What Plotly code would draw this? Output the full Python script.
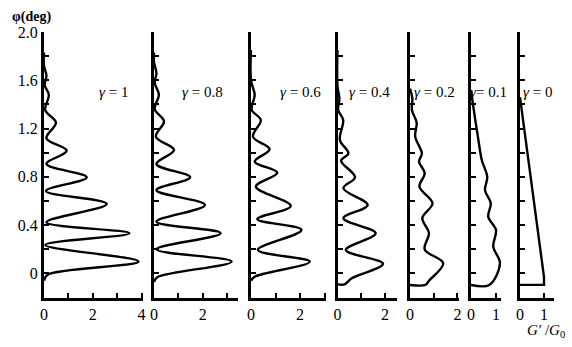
import plotly.graph_objects as go

# ---- data (phi in deg, G'/G0) ----
labels = ["γ = 1", "γ = 0.8", "γ = 0.6", "γ = 0.4", "γ = 0.2", "γ= 0.1", "γ = 0"]

phi1 = [-0.06, -0.01, 0.098, 0.236, 0.333, 0.424, 0.576, 0.683, 0.797, 0.907, 1.017, 1.12, 1.249, 1.354, 1.478, 1.56, 1.64, 1.72, 1.83]
g1   = [0.0,   0.15,  3.87,  0.05,  3.5,   0.1,   2.57,  0.08,  1.75,  0.1,   0.93,  0.1,  0.49,  0.05,  0.2,   0.03, 0.1,  0.0,  0.0]

phi2 = [-0.07, -0.03, 0.098, 0.2, 0.333, 0.429, 0.567, 0.69, 0.797, 0.907, 1.023, 1.133, 1.26, 1.36, 1.48, 1.58, 1.66, 1.75, 1.83]
g2   = [0.0,   0.15,  3.18,  0.1, 2.73,  0.1,   2.09,  0.1,  1.48,  0.1,   0.82,  0.08,  0.41, 0.03, 0.2,  0.03, 0.1,  0.0,  0.0]

phi3 = [-0.06, -0.027, 0.098, 0.195, 0.36, 0.45, 0.559, 0.719, 0.835, 0.926, 1.029, 1.133, 1.271, 1.354, 1.48, 1.6, 1.85]
g3   = [0.0,   0.15,   2.4,   0.28,  2.06, 0.26, 1.62,  0.2,   1.07,  0.15,  0.76,  0.08,  0.4,   0.03,  0.15, 0.0, 0.0]

phi4 = [-0.09, -0.09, -0.04, 0.08, 0.195, 0.333, 0.457, 0.567, 0.706, 0.797, 0.934, 0.995, 1.106, 1.271, 1.354, 1.45, 1.55, 1.85]
g4   = [0.0,   0.3,   0.6,   1.92, 0.35,  1.61,  0.25,  1.27,  0.25,  0.74,  0.15,  0.46,  0.1,   0.24,  0.03,  0.08, 0.0,  0.0]

phi5 = [-0.095, -0.095, -0.06, 0.084, 0.2, 0.333, 0.46, 0.581, 0.719, 0.83, 0.926, 0.995, 1.133, 1.25, 1.354, 1.45, 1.53]
g5   = [0.0,    0.65,   0.8,   1.4,   0.62, 0.8,  0.52, 0.95,  0.4,   0.62, 0.38,  0.5,   0.22,  0.28, 0.08,  0.1,  0.0]

phi6 = [-0.095, -0.095, 0.084, 0.222, 0.36, 0.47, 0.581, 0.69, 0.80, 0.94, 1.1, 1.3, 1.52]
g6   = [0.0,    0.73,   1.16,  0.89,  1.0,  0.69, 0.79,  0.56, 0.65, 0.43, 0.3, 0.15, 0.0]

phi7 = [-0.095, -0.095, -0.03, 1.46]
g7   = [0.0,    1.0,    1.0,   0.0]

phis = [phi1, phi2, phi3, phi4, phi5, phi6, phi7]
gs = [g1, g2, g3, g4, g5, g6, g7]

# x ranges of each panel and tick labelling
xranges = [4.05, 3.45, 3.05, 2.5, 2.05, 1.2, 1.42]
xticks = [[0, 2, 4], [0, 2], [0, 2], [0, 2], [0, 2], [0, 1], [0, 1]]
xtext = [["0", "2", "4"], ["0", "2"], ["0", "2"], ["0", "2"], ["0", "2"], ["0", "1"], ["0", "1"]]
yticks = [0, 0.4, 0.8, 1.2, 1.6, 2.0]
ytext = ["0", "0.4", "0.8", "1.2", "1.6", "2.0"]

# layout geometry (pixels)
W, H = 572, 347
ML, MR, MT, MB = 20, 10, 20, 30
PW, PH = W - ML - MR, H - MT - MB


def fx(px):
    return (px - ML) / PW


def fy(py):
    return (H - MB - py) / PH


x0px = [44, 154, 251, 337.5, 410, 471, 520]
unitpx = [24.4, 24.4, 24.5, 23.7, 23.7, 25.0, 24.0]
ytop, ybot = 32, 297.6

fig = go.Figure()
font = dict(family="Liberation Serif", size=16, color="black")
minor_common = dict(ticks="inside", ticklen=5, tickwidth=2, tickcolor="black", showgrid=False)

for i in range(7):
    n = "" if i == 0 else str(i + 1)
    fig.add_trace(go.Scatter(
        x=gs[i], y=phis[i], mode="lines",
        line=dict(color="black", width=2.4, shape="linear" if i == 6 else "spline", smoothing=1.0),
        xaxis="x" + n, yaxis="y" + n, showlegend=False, hoverinfo="skip", cliponaxis=False))
    xminor = dict(minor_common, tick0=0, dtick=1) if i < 5 else dict(ticks="")
    fig.update_layout(**{
        "xaxis" + n: dict(domain=[fx(x0px[i]), fx(x0px[i] + xranges[i] * unitpx[i])],
                          range=[0, xranges[i]], anchor="y" + n, automargin=False,
                          showgrid=False, zeroline=False, showline=True, linecolor="black", linewidth=2.5,
                          ticks="inside", ticklen=5, tickwidth=2, tickcolor="black",
                          tickvals=xticks[i], ticktext=xtext[i], tickfont=font, minor=xminor),
        "yaxis" + n: dict(domain=[fy(ybot), fy(ytop)], range=[-0.2, 2.0], anchor="x" + n, automargin=False,
                          showgrid=False, zeroline=False, showline=True, linecolor="black", linewidth=3,
                          ticks="inside", ticklen=5, tickwidth=2, tickcolor="black",
                          tickvals=yticks, ticktext=ytext,
                          showticklabels=(i == 0), tickfont=font,
                          minor=dict(minor_common, tick0=0, dtick=0.2)),
    })

# panel labels (left edges in pixels)
label_left = [97, 180, 278, 347, 412, 468, 521]
for i in range(7):
    fig.add_annotation(x=fx(label_left[i]), y=fy(82), xref="paper", yref="paper", xanchor="left",
                       text=labels[i].replace("γ", "<i>γ</i>"), showarrow=False,
                       font=dict(family="Liberation Serif", size=15, color="black"))

fig.add_annotation(x=fx(10), y=fy(7), xref="paper", yref="paper", xanchor="left", yanchor="top",
                   text="<b>φ(deg)</b>", showarrow=False,
                   font=dict(family="Liberation Serif", size=14, color="black"))
fig.add_annotation(x=fx(567), y=fy(320), xref="paper", yref="paper", xanchor="right", yanchor="top",
                   text="<i>G′</i> /<i>G</i><sub>0</sub>", showarrow=False,
                   font=dict(family="Liberation Serif", size=15, color="black"))

fig.update_layout(width=W, height=H, margin=dict(l=ML, r=MR, t=MT, b=MB, autoexpand=False),
                  paper_bgcolor="white", plot_bgcolor="white")

fig.write_html("out.html", config={"displayModeBar": False},
               post_script="document.body.style.margin='0px';document.body.style.overflow='hidden';")
